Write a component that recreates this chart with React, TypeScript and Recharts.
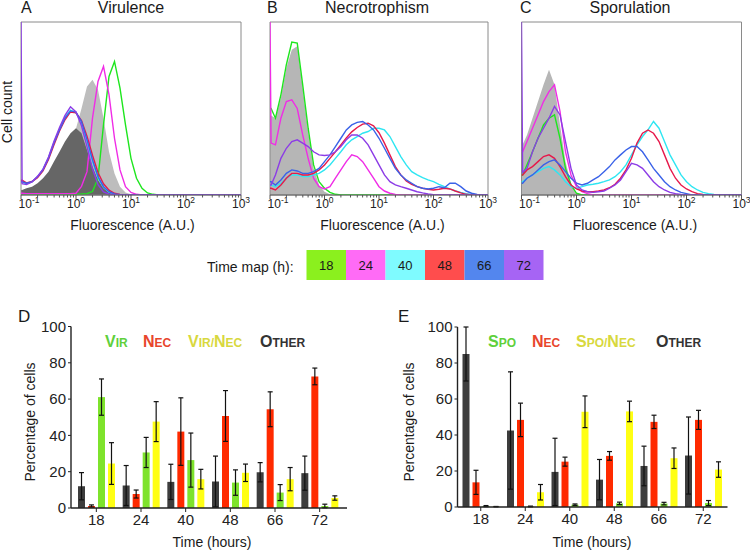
import React from 'react'
import { ComposedChart, Line, Area, XAxis, YAxis, ReferenceArea, BarChart, Bar, ErrorBar } from 'recharts'

const FONT = '"Liberation Sans", Arial, Helvetica, sans-serif'

// time points (h) and their colours
const TIMES = ['18', '24', '40', '48', '66', '72']
const TIME_COLORS = ['#8bf01e', '#ff6bf6', '#7ffbff', '#ff4d4d', '#5386ee', '#a664f4']
const LINE_COLORS = ['#1ee61e', '#f02ce6', '#2ee6f2', '#e6194b', '#3a62e8', '#8c3ce6']

// histogram bins, log10 of fluorescence
const DECADES = [-1, 0, 1, 2, 3]
const LOG_X = [-1, -0.98, -0.9, -0.8, -0.7, -0.6, -0.5, -0.4, -0.3, -0.2, -0.1, 0, 0.1, 0.2, 0.3, 0.4, 0.5, 0.6, 0.7, 0.8, 0.9, 1, 1.1, 1.2, 1.3, 1.4, 1.5, 1.6, 1.7, 1.8, 1.9, 2, 2.1, 2.2, 2.3, 2.4, 2.5, 2.6, 2.7, 2.8, 2.9, 3]

// A - Virulence
const A_DARK = [2.9, 2.9, 3.9, 4.8, 6.8, 9.7, 13.5, 19.3, 25, 30.9, 35.7, 38.6, 35.7, 26, 16.4, 8.7, 3.9, 1.5, 0.4, 0, 0, 0, 0, 0, 0, 0, 0, 0, 0, 0, 0, 0, 0, 0, 0, 0, 0, 0, 0, 0, 0, 0]
const A_LIGHT = [2.5, 2.5, 3.5, 4.3, 6, 8.8, 12.5, 18, 23.5, 29.5, 35, 38.5, 50, 62.7, 66.6, 60.8, 44.4, 25, 12.5, 4.8, 1.5, 0.4, 0, 0, 0, 0, 0, 0, 0, 0, 0, 0, 0, 0, 0, 0, 0, 0, 0, 0, 0, 0]
const A_18 = [0.8, 0.8, 0.6, 0.5, 0.5, 0.5, 0.5, 0.5, 0.5, 0.5, 0.5, 0.5, 0.6, 0.8, 2, 9.7, 40.5, 68.5, 77.2, 61.8, 40.5, 21.2, 9.7, 3.9, 1.2, 0.4, 0, 0, 0, 0, 0, 0, 0, 0, 0, 0, 0, 0, 0, 0, 0, 0]
const A_24 = [1, 1, 0.8, 0.8, 0.8, 0.8, 0.8, 0.8, 0.8, 0.8, 0.8, 1, 5, 13.5, 44.4, 65.6, 74.3, 58, 32.8, 14.5, 4.8, 1.5, 0.4, 0, 0, 0, 0, 0, 0, 0, 0, 0, 0, 0, 0, 0, 0, 0, 0, 0, 0, 0]
const A_40 = [7.5, 7.5, 6.5, 7.6, 10.5, 14.8, 21.5, 30.5, 38, 45, 49, 47.5, 42, 31, 19.5, 10, 4.5, 1.7, 0.5, 0.2, 0, 0, 0, 0, 0, 0, 0, 0, 0, 0, 0, 0, 0, 0, 0, 0, 0, 0, 0, 0, 0, 0]
const A_48 = [8.5, 8.5, 7, 7.8, 10, 14, 20.5, 29, 37, 43.5, 48, 47.5, 43, 34, 23, 13, 6.5, 2.8, 1, 0.3, 0, 0, 0, 0, 0, 0, 0, 0, 0, 0, 0, 0, 0, 0, 0, 0, 0, 0, 0, 0, 0, 0]
const A_66 = [7.7, 7.7, 6.8, 7.7, 10.6, 14.5, 21.2, 30, 37.6, 44.4, 48.6, 47.9, 42.5, 32, 20.3, 10.6, 4.8, 1.9, 0.6, 0.2, 0, 0, 0, 0, 0, 0, 0, 0, 0, 0, 0, 0, 0, 0, 0, 0, 0, 0, 0, 0, 0, 0]
const A_72 = [100, 6.5, 6, 7.5, 10.8, 15, 22, 31, 39, 46, 51, 48, 40, 28, 15, 6, 1.8, 0.5, 0.2, 0, 0, 0, 0, 0, 0, 0, 0, 0, 0, 0, 0, 0, 0, 0, 0, 0, 0, 0, 0, 0, 0, 0]

// B - Necrotrophism
const B_GRAY = [46, 46, 44.4, 56, 73.4, 84, 86, 61.8, 36.7, 15.4, 5.8, 1.9, 0.5, 0, 0, 0, 0, 0, 0, 0, 0, 0, 0, 0, 0, 0, 0, 0, 0, 0, 0, 0, 0, 0, 0, 0, 0, 0, 0, 0, 0, 0]
const B_18 = [50, 50, 44.4, 57.9, 75.3, 88.4, 87.8, 63.7, 38.6, 17.4, 7.7, 3.9, 1.5, 0.4, 0, 0, 0, 0, 0, 0, 0, 0, 0, 0, 0, 0, 0, 0, 0, 0, 0, 0, 0, 0, 0, 0, 0, 0, 0, 0, 0, 0]
const B_24 = [100, 30, 29, 44.4, 54, 55, 50, 34.7, 21.2, 9.7, 4.8, 3.5, 4.8, 9.7, 14.5, 19.3, 23.2, 22.2, 19.3, 14.5, 9.7, 4.8, 2.3, 1, 0.3, 0, 0, 0, 0, 0, 0, 0, 0, 0, 0, 0, 0, 0, 0, 0, 0, 0]
const B_40 = [5.8, 5.8, 4.8, 6.8, 9.7, 11.6, 11.6, 10.6, 10.6, 11.6, 12.5, 14.5, 17.4, 21.2, 25, 29, 31.9, 33.8, 35.7, 36.7, 38.6, 38.6, 37.6, 33.8, 28, 22.2, 17.4, 13.5, 11.6, 10, 8.7, 7.7, 6.2, 4.8, 3.5, 2.3, 1.5, 0.8, 0.3, 0, 0, 0]
const B_48 = [3.9, 3.9, 2.9, 5.8, 9.7, 12.5, 12.5, 11.6, 11.6, 12.5, 14.5, 17.4, 21.2, 25, 29, 33, 36.5, 39, 41, 41.5, 40, 36, 30, 23.2, 16.4, 11.6, 8.1, 6.2, 4.8, 3.9, 3.3, 2.9, 3.3, 3.9, 3.5, 2.3, 1.2, 0.4, 0, 0, 0, 0]
const B_66 = [7.7, 7.7, 5.8, 8.7, 12.5, 14.5, 13.9, 12.5, 12.5, 13.5, 15.4, 19.3, 23.2, 28, 32.8, 37.6, 40.5, 42, 42.5, 40.5, 37.6, 32.8, 27, 21.2, 15.4, 11.6, 8.7, 6.8, 4.8, 3.9, 3.5, 3.9, 4.8, 4.2, 6.8, 6.8, 4.8, 2.3, 1, 0.3, 0, 0]
const B_72 = [5.8, 5.8, 11.6, 21.2, 27, 30.9, 31.9, 30, 28, 25, 23.2, 22.8, 23.2, 25, 28, 31.9, 34.7, 34.7, 32.8, 29, 23.2, 17.4, 11.6, 7.7, 5.8, 4.8, 3.9, 2.9, 1.9, 1.2, 0.6, 0.2, 0, 0, 0, 0, 0, 0, 0, 0, 0, 0]

// C - Sporulation
const C_GRAY = [29, 29, 34.7, 44.4, 54, 63.7, 72.4, 63.7, 40.5, 19.3, 6.8, 1, 0, 0, 0, 0, 0, 0, 0, 0, 0, 0, 0, 0, 0, 0, 0, 0, 0, 0, 0, 0, 0, 0, 0, 0, 0, 0, 0, 0, 0, 0]
const C_18 = [11.6, 11.6, 17.4, 25, 32.8, 40.5, 44.4, 46.3, 32.8, 15.4, 5.8, 1, 0, 0, 0, 0, 0, 0, 0, 0, 0, 0, 0, 0, 0, 0, 0, 0, 0, 0, 0, 0, 0, 0, 0, 0, 0, 0, 0, 0, 0, 0]
const C_24 = [25, 25, 30.9, 38.6, 46.3, 54, 59.8, 63.7, 48.3, 25, 11.6, 4.8, 1.9, 0.8, 0, 0, 0, 0, 0, 0, 0, 0, 0, 0, 0, 0, 0, 0, 0, 0, 0, 0, 0, 0, 0, 0, 0, 0, 0, 0, 0, 0]
const C_40 = [7.7, 7.7, 9.7, 11.6, 13.5, 15.4, 16.4, 14.5, 11.6, 7.7, 4.8, 3.9, 4.8, 5.8, 6.2, 6.8, 7.7, 8.7, 10.6, 13.5, 17.4, 23.2, 29, 33.8, 37.6, 42.5, 38.6, 30.9, 23.2, 17.4, 11.6, 7.7, 4.8, 2.9, 1.5, 0.8, 0.3, 0, 0, 0, 0, 0]
const C_48 = [11.6, 11.6, 14.5, 16.4, 19.3, 22.2, 23.2, 21.2, 16.4, 10.6, 5.8, 3.5, 2.3, 1.9, 1.9, 2.3, 2.9, 4.2, 6.2, 9.7, 14.5, 21.2, 30, 35.7, 37.6, 35.7, 30.9, 23.2, 15.4, 9.7, 5.8, 3.5, 1.9, 0.8, 0.3, 0, 0, 0, 0, 0, 0, 0]
const C_66 = [6.8, 6.8, 9.7, 11.6, 14.5, 17.4, 19.3, 20.3, 17.4, 13.5, 9.7, 6.8, 5.8, 6.8, 8.7, 10.6, 13.5, 16.4, 20.3, 23.2, 26, 28, 28, 25, 20.3, 15.4, 11.6, 7.7, 4.8, 2.9, 1.5, 0.8, 0, 0, 0, 0, 0, 0, 0, 0, 0, 0]
const C_72 = [100, 13, 15.4, 25, 32.8, 38.6, 44.4, 51.2, 46.3, 30.9, 15.4, 5.8, 2.9, 1.9, 1.5, 1.9, 2.3, 3.9, 5.8, 8.7, 13.5, 18.3, 17.4, 15.4, 11.6, 7.7, 4.8, 2.9, 1.5, 0.8, 0.3, 0, 0, 0, 0, 0, 0, 0, 0, 0, 0, 0]

// D - percentage of cells per class (mean, error)
const D_OTHER = [12, 12.4, 14.4, 14.6, 19.7, 19.2]
const D_OTHER_ERR = [7.5, 11, 9.7, 14, 5.3, 9.4]
const D_NEC = [1.1, 7.7, 42.1, 50.7, 54.4, 72.5]
const D_NEC_ERR = [0.6, 2.2, 18.6, 14, 9.6, 4.6]
const D_VIR = [61.1, 30.6, 26.4, 14, 8.5, 1.1]
const D_VIR_ERR = [10, 8.3, 14.9, 7, 4.4, 1]
const D_VIRNEC = [24.5, 47.6, 15.9, 19.4, 15.9, 5.5]
const D_VIRNEC_ERR = [11.5, 11, 5.4, 4.8, 6.4, 1.2]

// E
const E_OTHER = [85, 42.5, 19.5, 15.2, 22.8, 28.6]
const E_OTHER_ERR = [15, 32.6, 18.7, 11.2, 11, 21.4]
const E_NEC = [13.7, 48.4, 25.2, 28.4, 47.3, 48.4]
const E_NEC_ERR = [6.7, 9.3, 2.5, 2.4, 3.7, 5.3]
const E_SPO = [0.5, 0.3, 1.3, 2, 1.9, 2.2]
const E_SPO_ERR = [0.3, 0.2, 0.4, 0.7, 0.7, 1.4]
const E_SPONEC = [0.2, 8.2, 52.9, 53.1, 27.1, 20.8]
const E_SPONEC_ERR = [0.1, 4.3, 8.8, 5.7, 5.7, 4.3]

const Y_TICKS = [0, 20, 40, 60, 80, 100]

const BAR_COLORS = { other: '#3d3d3d', nec: '#ff2a00', a: '#7ee32c', ab: '#ffff14' }

const LOG_TICKS = [
  ...DECADES,
  ...DECADES.slice(0, 4).flatMap((d) => [2, 3, 4, 5, 6, 7, 8, 9].map((k) => d + Math.log10(k))),
]

const LogTick = (props: any) => {
  const { x, y, payload } = props
  const v = payload.value
  const dec = DECADES.find((d) => Math.abs(d - v) < 1e-9)
  const major = dec !== undefined
  return (
    <g>
      <line x1={x} x2={x} y1={y} y2={y + (major ? 4 : 2.5)} stroke="#555" strokeWidth={1} />
      {major && (
        <text x={x + (dec === -1 ? 8 : 0)} y={y + 12.5} textAnchor="middle" fontSize={12} fill="#222" fontFamily={FONT}>
          10<tspan dy={-5} fontSize={8.5}>{String(dec)}</tspan>
        </text>
      )}
    </g>
  )
}

type Series = { key: string; values: number[]; color: string }

function Histogram({ left, ml, mr, fills, curves }: { left: number; ml: number; mr: number; fills: Series[]; curves: Series[] }) {
  const data = LOG_X.map((x, i) => {
    const row: Record<string, number> = { x }
    fills.forEach((f) => (row[f.key] = f.values[i]))
    curves.forEach((c) => (row[c.key] = c.values[i]))
    return row
  })
  return (
    <div style={{ position: 'absolute', left, top: 0 }}>
      <ComposedChart width={250} height={215} data={data} margin={{ top: 22, left: ml, right: mr, bottom: 0 }}>
        <XAxis
          type="number"
          dataKey="x"
          domain={[-1, 3]}
          ticks={LOG_TICKS}
          interval={0}
          tick={<LogTick />}
          tickLine={false}
          tickSize={0}
          tickMargin={0}
          height={20}
          axisLine={{ stroke: '#666' }}
          allowDataOverflow
        />
        <YAxis hide domain={[0, 100]} allowDataOverflow />
        {fills.map((f) => (
          <Area key={f.key} dataKey={f.key} type="linear" fill={f.color} fillOpacity={1} stroke="none" isAnimationActive={false} />
        ))}
        {curves.map((c) => (
          <Line key={c.key} dataKey={c.key} type="linear" stroke={c.color} strokeWidth={1.4} dot={false} isAnimationActive={false} />
        ))}
        <ReferenceArea x1={-1} x2={3} y1={0} y2={100} fill="none" stroke="#8a8a8a" strokeWidth={1} ifOverflow="visible" />
      </ComposedChart>
    </div>
  )
}

const curveSet = (vals: number[][]): Series[] => vals.map((v, i) => ({ key: 'h' + TIMES[i], values: v, color: LINE_COLORS[i] }))

type BarSpec = { key: string; values: number[]; errors: number[]; color: string }

function PercentBars({ left, ml, mr, mt, mb, padding, series }: { left: number; ml: number; mr: number; mt: number; mb: number; padding: { left: number; right: number }; series: BarSpec[] }) {
  const data = TIMES.map((t, i) => {
    const row: Record<string, any> = { t }
    series.forEach((s) => {
      row[s.key] = s.values[i]
      row[s.key + 'Err'] = s.errors[i]
    })
    return row
  })
  const tick = { fontSize: 15, fill: '#222', fontFamily: FONT }
  return (
    <div style={{ position: 'absolute', left, top: 300 }}>
      <BarChart width={375} height={251} data={data} margin={{ top: mt, left: ml, right: mr, bottom: mb }} barGap={3}>
        <XAxis dataKey="t" tick={tick} tickSize={4} tickMargin={2} height={30} padding={padding} stroke="#222" axisLine={{ stroke: '#222', strokeWidth: 1.4 }} interval={0} />
        <YAxis domain={[0, 100]} ticks={Y_TICKS} interval={0} width={40} tickSize={3} tickMargin={2} tick={tick} stroke="#222" axisLine={{ stroke: '#222', strokeWidth: 1.4 }} />
        {series.map((s) => (
          <Bar key={s.key} dataKey={s.key} fill={s.color} barSize={7} isAnimationActive={false}>
            <ErrorBar dataKey={s.key + 'Err'} width={2.5} stroke="#111" strokeWidth={1.2} direction="y" />
          </Bar>
        ))}
      </BarChart>
    </div>
  )
}

function SmallCaps({ x, y, text, color }: { x: number; y: number; text: string; color: string }) {
  const parts = text.split('/')
  return (
    <text x={x} y={y} fill={color} fontWeight="bold" fontFamily={FONT}>
      {parts.map((p, i) => (
        <React.Fragment key={i}>
          <tspan fontSize={16}>{p[0].toUpperCase()}</tspan>
          <tspan fontSize={12}>{p.slice(1).toUpperCase() + (i < parts.length - 1 ? '/' : '')}</tspan>
        </React.Fragment>
      ))}
    </text>
  )
}

const D_LEGEND = [
  { text: 'Vir', color: '#5fd03c', x: 105 },
  { text: 'Nec', color: '#e8462c', x: 143 },
  { text: 'Vir/Nec', color: '#d8d83e', x: 188 },
  { text: 'Other', color: '#333333', x: 260 },
]
const E_LEGEND = [
  { text: 'Spo', color: '#5fd03c', x: 488 },
  { text: 'Nec', color: '#e8462c', x: 532 },
  { text: 'Spo/Nec', color: '#d8d83e', x: 576 },
  { text: 'Other', color: '#333333', x: 656 },
]

export default function App() {
  const txt = { fontFamily: FONT, fill: '#1a1a1a' }
  return (
    <div style={{ position: 'absolute', left: 0, top: 0, width: 750, height: 551, background: '#fff', fontFamily: FONT, overflow: 'hidden' }}>
      <Histogram
        left={0}
        ml={21}
        mr={9}
        fills={[
          { key: 'light', values: A_LIGHT, color: '#bdbdbd' },
          { key: 'dark', values: A_DARK, color: '#666666' },
        ]}
        curves={curveSet([A_18, A_24, A_40, A_48, A_66, A_72])}
      />
      <Histogram
        left={250}
        ml={20}
        mr={12}
        fills={[{ key: 'gray', values: B_GRAY, color: '#b6b6b6' }]}
        curves={curveSet([B_18, B_24, B_40, B_48, B_66, B_72])}
      />
      <Histogram
        left={500}
        ml={21.5}
        mr={8.5}
        fills={[{ key: 'gray', values: C_GRAY, color: '#b6b6b6' }]}
        curves={curveSet([C_18, C_24, C_40, C_48, C_66, C_72])}
      />

      <PercentBars
        left={0}
        ml={31}
        mr={28}
        mt={26.5}
        mb={13}
        padding={{ left: 3, right: 5 }}
        series={[
          { key: 'other', values: D_OTHER, errors: D_OTHER_ERR, color: BAR_COLORS.other },
          { key: 'nec', values: D_NEC, errors: D_NEC_ERR, color: BAR_COLORS.nec },
          { key: 'vir', values: D_VIR, errors: D_VIR_ERR, color: BAR_COLORS.a },
          { key: 'virnec', values: D_VIRNEC, errors: D_VIRNEC_ERR, color: BAR_COLORS.ab },
        ]}
      />
      <PercentBars
        left={375}
        ml={42.5}
        mr={22.5}
        mt={27}
        mb={14}
        padding={{ left: 1, right: 2 }}
        series={[
          { key: 'other', values: E_OTHER, errors: E_OTHER_ERR, color: BAR_COLORS.other },
          { key: 'nec', values: E_NEC, errors: E_NEC_ERR, color: BAR_COLORS.nec },
          { key: 'spo', values: E_SPO, errors: E_SPO_ERR, color: BAR_COLORS.a },
          { key: 'sponec', values: E_SPONEC, errors: E_SPONEC_ERR, color: BAR_COLORS.ab },
        ]}
      />

      <svg width={750} height={551} style={{ position: 'absolute', left: 0, top: 0, pointerEvents: 'none' }}>
        {/* panel letters and titles */}
        <text x={21} y={13} fontSize={16} {...txt}>A</text>
        <text x={267} y={13} fontSize={16} {...txt}>B</text>
        <text x={520} y={13} fontSize={16} {...txt}>C</text>
        <text x={131} y={13} fontSize={16} textAnchor="middle" {...txt}>Virulence</text>
        <text x={377} y={13} fontSize={16} textAnchor="middle" {...txt}>Necrotrophism</text>
        <text x={630} y={13} fontSize={16} textAnchor="middle" {...txt}>Sporulation</text>
        <text x={12} y={112} fontSize={14} textAnchor="middle" transform="rotate(-90 12 112)" {...txt}>Cell count</text>
        {[132.5, 382.5, 635].map((cx) => (
          <text key={cx} x={cx} y={230} fontSize={14} textAnchor="middle" {...txt}>Fluorescence (A.U.)</text>
        ))}

        {/* time map */}
        <text x={207} y={271.5} fontSize={14} {...txt}>Time map (h):</text>
        {TIMES.map((t, i) => (
          <g key={t}>
            <rect x={306.5 + i * 39.5} y={250} width={39.5} height={30} fill={TIME_COLORS[i]} />
            <text x={306.5 + i * 39.5 + 19.75} y={270} fontSize={13} textAnchor="middle" {...txt}>{t}</text>
          </g>
        ))}

        {/* bar panels */}
        <text x={18} y={322} fontSize={17} {...txt}>D</text>
        <text x={398} y={322} fontSize={17} {...txt}>E</text>
        {D_LEGEND.map((l) => (
          <SmallCaps key={l.text} x={l.x} y={347} text={l.text} color={l.color} />
        ))}
        {E_LEGEND.map((l) => (
          <SmallCaps key={l.text} x={l.x} y={347} text={l.text} color={l.color} />
        ))}
        <text x={35} y={422} fontSize={14} textAnchor="middle" transform="rotate(-90 35 422)" {...txt}>Percentage of cells</text>
        <text x={414} y={422} fontSize={14} textAnchor="middle" transform="rotate(-90 414 422)" {...txt}>Percentage of cells</text>
        <text x={212} y={547} fontSize={14} textAnchor="middle" {...txt}>Time (hours)</text>
        <text x={592} y={547} fontSize={14} textAnchor="middle" {...txt}>Time (hours)</text>
      </svg>
    </div>
  )
}
